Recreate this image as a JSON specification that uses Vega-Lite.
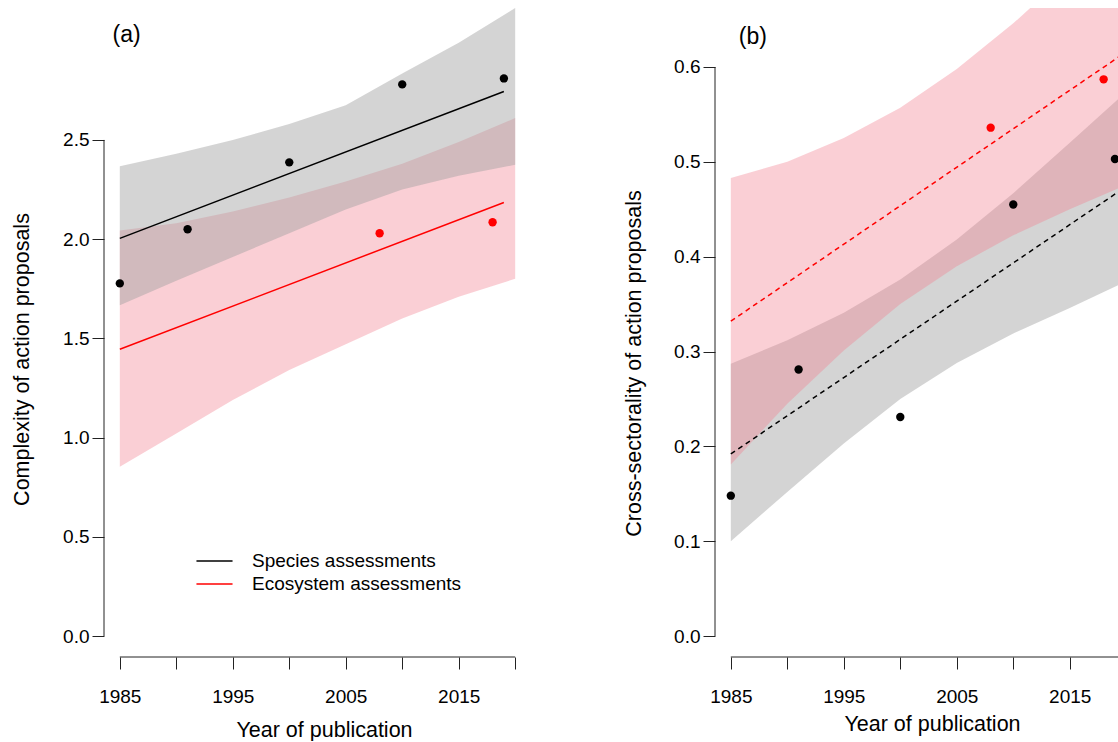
{
  "$schema": "https://vega.github.io/schema/vega-lite/v6.json",
  "padding": {"left": 11, "top": 8, "right": 0, "bottom": 0},
  "background": "white",
  "config": {
    "view": {"stroke": null},
    "font": "Liberation Sans",
    "axis": {"domain": false, "grid": false, "tickSize": 12, "tickColor": "#222", "tickWidth": 1, "labelFont": "Liberation Sans", "labelFontSize": 19, "labelColor": "#000", "titleFont": "Liberation Sans", "titleFontSize": 21.5, "titleFontWeight": "normal", "titleColor": "#000", "labelFlush": false, "labelOverlap": false},
    "axisY": {"labelPadding": 3, "titleBaseline": "alphabetic", "titleAngle": -90},
    "axisX": {"labelPadding": 18, "titleBaseline": "alphabetic"}
  },
  "datasets": {
    "bandA": [
      {"group": "Species assessments", "year": 1985, "lo": 1.667, "hi": 2.367},
      {"group": "Species assessments", "year": 1990, "lo": 1.79, "hi": 2.43},
      {"group": "Species assessments", "year": 1995, "lo": 1.91, "hi": 2.5},
      {"group": "Species assessments", "year": 2000, "lo": 2.03, "hi": 2.58},
      {"group": "Species assessments", "year": 2005, "lo": 2.15, "hi": 2.675},
      {"group": "Species assessments", "year": 2010, "lo": 2.25, "hi": 2.835},
      {"group": "Species assessments", "year": 2015, "lo": 2.32, "hi": 2.99},
      {"group": "Species assessments", "year": 2020, "lo": 2.375, "hi": 3.165},
      {"group": "Ecosystem assessments", "year": 1985, "lo": 0.853, "hi": 2.044},
      {"group": "Ecosystem assessments", "year": 1990, "lo": 1.02, "hi": 2.08},
      {"group": "Ecosystem assessments", "year": 1995, "lo": 1.19, "hi": 2.14},
      {"group": "Ecosystem assessments", "year": 2000, "lo": 1.34, "hi": 2.21},
      {"group": "Ecosystem assessments", "year": 2005, "lo": 1.47, "hi": 2.29},
      {"group": "Ecosystem assessments", "year": 2010, "lo": 1.6, "hi": 2.38},
      {"group": "Ecosystem assessments", "year": 2015, "lo": 1.71, "hi": 2.49},
      {"group": "Ecosystem assessments", "year": 2020, "lo": 1.8, "hi": 2.61}
    ],
    "fitA": [
      {"group": "Species assessments", "year": 1985, "fit": 2.004},
      {"group": "Species assessments", "year": 2019, "fit": 2.744},
      {"group": "Ecosystem assessments", "year": 1985, "fit": 1.445},
      {"group": "Ecosystem assessments", "year": 2019, "fit": 2.185}
    ],
    "ptsA": [
      {"group": "Species assessments", "year": 1985, "value": 1.777},
      {"group": "Species assessments", "year": 1991, "value": 2.05},
      {"group": "Species assessments", "year": 2000, "value": 2.387},
      {"group": "Species assessments", "year": 2010, "value": 2.78},
      {"group": "Species assessments", "year": 2019, "value": 2.81},
      {"group": "Ecosystem assessments", "year": 2008, "value": 2.03},
      {"group": "Ecosystem assessments", "year": 2018, "value": 2.085}
    ],
    "bandB": [
      {"group": "Species assessments", "year": 1985, "lo": 0.1, "hi": 0.287},
      {"group": "Species assessments", "year": 1990, "lo": 0.152, "hi": 0.312},
      {"group": "Species assessments", "year": 1995, "lo": 0.203, "hi": 0.341},
      {"group": "Species assessments", "year": 2000, "lo": 0.25, "hi": 0.376},
      {"group": "Species assessments", "year": 2005, "lo": 0.288, "hi": 0.418},
      {"group": "Species assessments", "year": 2010, "lo": 0.319, "hi": 0.467},
      {"group": "Species assessments", "year": 2015, "lo": 0.346, "hi": 0.52},
      {"group": "Species assessments", "year": 2020, "lo": 0.374, "hi": 0.574},
      {"group": "Ecosystem assessments", "year": 1985, "lo": 0.181, "hi": 0.483},
      {"group": "Ecosystem assessments", "year": 1990, "lo": 0.245, "hi": 0.5},
      {"group": "Ecosystem assessments", "year": 1995, "lo": 0.301, "hi": 0.525},
      {"group": "Ecosystem assessments", "year": 2000, "lo": 0.35, "hi": 0.557},
      {"group": "Ecosystem assessments", "year": 2005, "lo": 0.39, "hi": 0.598},
      {"group": "Ecosystem assessments", "year": 2010, "lo": 0.4225, "hi": 0.646},
      {"group": "Ecosystem assessments", "year": 2015, "lo": 0.45, "hi": 0.7},
      {"group": "Ecosystem assessments", "year": 2020, "lo": 0.4755, "hi": 0.7555}
    ],
    "fitB": [
      {"group": "Species assessments", "year": 1985, "fit": 0.192},
      {"group": "Species assessments", "year": 2020, "fit": 0.474},
      {"group": "Ecosystem assessments", "year": 1985, "fit": 0.332},
      {"group": "Ecosystem assessments", "year": 2020, "fit": 0.616}
    ],
    "ptsB": [
      {"group": "Species assessments", "year": 1985, "value": 0.148},
      {"group": "Species assessments", "year": 1991, "value": 0.281},
      {"group": "Species assessments", "year": 2000, "value": 0.231},
      {"group": "Species assessments", "year": 2010, "value": 0.455},
      {"group": "Species assessments", "year": 2019, "value": 0.503},
      {"group": "Ecosystem assessments", "year": 2008, "value": 0.536},
      {"group": "Ecosystem assessments", "year": 2018, "value": 0.587}
    ]
  },
  "hconcat": [
    {
      "width": 427,
      "height": 649,
      "layer": [
        {
          "data": {"name": "bandA"},
          "transform": [{"filter": "datum.group == 'Ecosystem assessments'"}],
          "mark": {"type": "area", "color": "#f28090", "opacity": 0.38},
          "encoding": {
            "x": {"field": "year", "type": "quantitative", "title": "Year of publication", "scale": {"domain": [1983.6, 2021.4], "nice": false, "zero": false},
              "axis": {"values": [1985, 1990, 1995, 2000, 2005, 2010, 2015, 2020], "labelExpr": "datum.value % 10 == 5 ? datum.value : ''", "titleX": 220, "titleY": 79}},
            "y": {"field": "lo", "type": "quantitative", "title": "Complexity of action proposals", "scale": {"domain": [-0.1058, 3.165], "nice": false, "zero": false},
              "axis": {"values": [0, 0.5, 1, 1.5, 2, 2.5], "format": ".1f", "titleX": -76, "titleY": 351}},
            "y2": {"field": "hi"}
          }
        },
        {
          "data": {"name": "bandA"},
          "transform": [{"filter": "datum.group == 'Species assessments'"}],
          "mark": {"type": "area", "color": "#a0a0a0", "opacity": 0.45},
          "encoding": {
            "x": {"field": "year", "type": "quantitative", "title": "Year of publication"},
            "y": {"field": "lo", "type": "quantitative", "title": "Complexity of action proposals"},
            "y2": {"field": "hi"}
          }
        },
        {
          "data": {"name": "fitA"},
          "mark": {"type": "line", "strokeWidth": 1.5},
          "encoding": {
            "x": {"field": "year", "type": "quantitative", "title": "Year of publication"},
            "y": {"field": "fit", "type": "quantitative", "title": "Complexity of action proposals"},
            "color": {"field": "group", "type": "nominal",
              "scale": {"domain": ["Species assessments", "Ecosystem assessments"], "range": ["#000000", "#ff0000"]},
              "legend": {"orient": "none", "legendX": 98.5, "legendY": 541, "title": null, "symbolType": "M-1.64,0H1.64", "symbolSize": 484, "symbolStrokeWidth": 1.5, "labelFontSize": 19, "labelFont": "Liberation Sans", "labelOffset": 25.5, "rowPadding": 1, "padding": 0, "labelColor": "#000", "labelLimit": 400}}
          }
        },
        {
          "data": {"name": "ptsA"},
          "mark": {"type": "circle", "size": 70, "opacity": 1},
          "encoding": {
            "x": {"field": "year", "type": "quantitative", "title": "Year of publication"},
            "y": {"field": "value", "type": "quantitative", "title": "Complexity of action proposals"},
            "fill": {"field": "group", "type": "nominal", "scale": {"domain": ["Species assessments", "Ecosystem assessments"], "range": ["#000000", "#ff0000"]}, "legend": null}
          }
        },
        {
          "data": {"values": [{}]},
          "mark": {"type": "rule", "color": "#222", "strokeWidth": 1},
          "encoding": {"x": {"datum": 1983.6}, "y": {"datum": 0}, "y2": {"datum": 2.5}}
        },
        {
          "data": {"values": [{}]},
          "mark": {"type": "rule", "color": "#222", "strokeWidth": 1},
          "encoding": {"x": {"datum": 1985}, "x2": {"datum": 2020}, "y": {"datum": -0.1058}}
        },
        {
          "data": {"values": [{}]},
          "mark": {"type": "text", "text": "(a)", "fontSize": 23, "font": "Liberation Sans", "align": "center", "baseline": "middle", "color": "#000"},
          "encoding": {"x": {"datum": 1985.6}, "y": {"datum": 3.03}}
        }
      ]
    },
    {
      "width": 403,
      "height": 649,
      "layer": [
        {
          "data": {"name": "bandB"},
          "transform": [{"filter": "datum.group == 'Species assessments'"}],
          "mark": {"type": "area", "color": "#a0a0a0", "opacity": 0.45, "clip": true},
          "encoding": {
            "x": {"field": "year", "type": "quantitative", "title": "Year of publication", "scale": {"domain": [1983.6, 2019.27], "nice": false, "zero": false},
              "axis": {"values": [1985, 1990, 1995, 2000, 2005, 2010, 2015], "labelExpr": "datum.value % 10 == 5 ? datum.value : ''", "titleX": 217, "titleY": 73}},
            "y": {"field": "lo", "type": "quantitative", "title": "Cross-sectorality of action proposals", "scale": {"domain": [-0.0221, 0.6622], "nice": false, "zero": false},
              "axis": {"values": [0, 0.1, 0.2, 0.3, 0.4, 0.5, 0.6], "format": ".1f", "titleX": -75, "titleY": 355}},
            "y2": {"field": "hi"}
          }
        },
        {
          "data": {"name": "bandB"},
          "transform": [{"filter": "datum.group == 'Ecosystem assessments'"}],
          "mark": {"type": "area", "color": "#f28090", "opacity": 0.38, "clip": true},
          "encoding": {
            "x": {"field": "year", "type": "quantitative", "title": "Year of publication"},
            "y": {"field": "lo", "type": "quantitative", "title": "Cross-sectorality of action proposals"},
            "y2": {"field": "hi"}
          }
        },
        {
          "data": {"name": "fitB"},
          "mark": {"type": "line", "strokeWidth": 1.5, "strokeDash": [5, 4], "clip": true},
          "encoding": {
            "x": {"field": "year", "type": "quantitative", "title": "Year of publication"},
            "y": {"field": "fit", "type": "quantitative", "title": "Cross-sectorality of action proposals"},
            "color": {"field": "group", "type": "nominal",
              "scale": {"domain": ["Species assessments", "Ecosystem assessments"], "range": ["#000000", "#ff0000"]}, "legend": null}
          }
        },
        {
          "data": {"name": "ptsB"},
          "mark": {"type": "circle", "size": 70, "opacity": 1, "clip": true},
          "encoding": {
            "x": {"field": "year", "type": "quantitative", "title": "Year of publication"},
            "y": {"field": "value", "type": "quantitative", "title": "Cross-sectorality of action proposals"},
            "fill": {"field": "group", "type": "nominal", "scale": {"domain": ["Species assessments", "Ecosystem assessments"], "range": ["#000000", "#ff0000"]}, "legend": null}
          }
        },
        {
          "data": {"values": [{}]},
          "mark": {"type": "rule", "color": "#222", "strokeWidth": 1},
          "encoding": {"x": {"datum": 1983.6}, "y": {"datum": 0}, "y2": {"datum": 0.6}}
        },
        {
          "data": {"values": [{}]},
          "mark": {"type": "rule", "color": "#222", "strokeWidth": 1},
          "encoding": {"x": {"datum": 1985}, "x2": {"datum": 2019.27}, "y": {"datum": -0.0221}}
        },
        {
          "data": {"values": [{}]},
          "mark": {"type": "text", "text": "(b)", "fontSize": 23, "font": "Liberation Sans", "align": "center", "baseline": "middle", "color": "#000"},
          "encoding": {"x": {"datum": 1986.95}, "y": {"datum": 0.632}}
        }
      ]
    }
  ],
  "spacing": 184,
  "bounds": "flush",
  "resolve": {"scale": {"color": "independent", "fill": "independent", "x": "independent", "y": "independent"}}
}
